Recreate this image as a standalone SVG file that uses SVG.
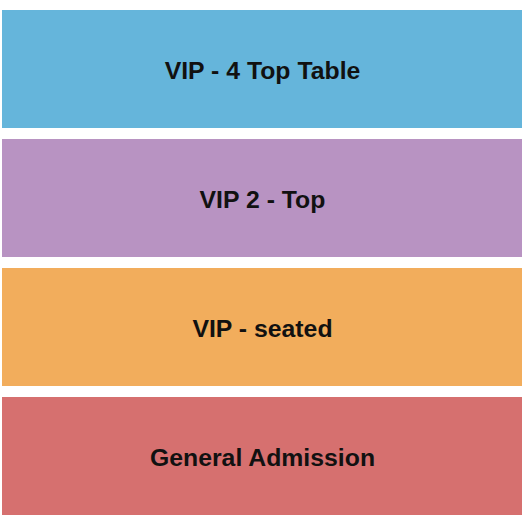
<svg xmlns="http://www.w3.org/2000/svg" width="525" height="525" viewBox="0 0 525 525">
<style>
.lbl{font-family:"Liberation Sans",Arial,sans-serif;font-weight:bold;font-size:24.8px;fill:#111;text-anchor:middle}
</style>
<rect width="525" height="525" fill="#ffffff"/>
<g id="vip-4-top-table"><rect x="2" y="10" width="520" height="118" fill="#65B5DB"/><text class="lbl" x="262.5" y="78.5">VIP - 4 Top Table</text></g>
<g id="vip-2-top"><rect x="2" y="139" width="520" height="118" fill="#B893C2"/><text class="lbl" x="262.5" y="207.5">VIP 2 - Top</text></g>
<g id="vip-seated"><rect x="2" y="268" width="520" height="118" fill="#F2AD5C"/><text class="lbl" x="262.5" y="336.5">VIP - seated</text></g>
<g id="general-admission"><rect x="2" y="397" width="520" height="118" fill="#D6706F"/><text class="lbl" x="262.5" y="465.5">General Admission</text></g>
<g id="connectors"/>
</svg>
